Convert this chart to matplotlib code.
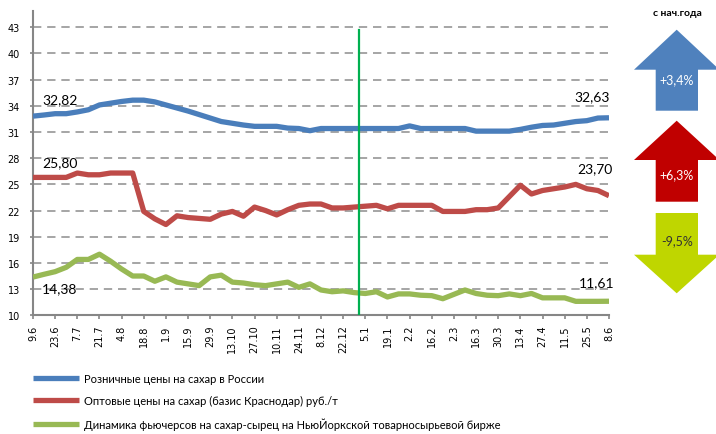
import matplotlib
matplotlib.use("Agg")
import matplotlib.pyplot as plt
from matplotlib.patches import Polygon
import numpy as np

# ---------------- data ----------------
tick_labels = ["9.6", "23.6", "7.7", "21.7", "4.8", "18.8", "1.9", "15.9", "29.9",
               "13.10", "27.10", "10.11", "24.11", "8.12", "22.12", "5.1", "19.1",
               "2.2", "16.2", "2.3", "16.3", "30.3", "13.4", "27.4", "11.5", "25.5", "8.6"]

retail = [32.82, 32.95, 33.1, 33.1, 33.3, 33.55, 34.1, 34.3, 34.5, 34.65, 34.65, 34.45,
          34.1, 33.75, 33.4, 33.0, 32.6, 32.2, 32.0, 31.8, 31.65, 31.65, 31.65, 31.45,
          31.4, 31.15, 31.4, 31.4, 31.4, 31.4, 31.4, 31.4, 31.4, 31.4, 31.7, 31.4,
          31.4, 31.4, 31.4, 31.4, 31.1, 31.1, 31.1, 31.1, 31.3, 31.55, 31.75, 31.8,
          32.0, 32.2, 32.3, 32.6, 32.63]

wholesale = [25.8, 25.8, 25.8, 25.8, 26.3, 26.1, 26.1, 26.3, 26.3, 26.3, 21.9, 21.05,
             20.4, 21.4, 21.2, 21.1, 21.0, 21.6, 21.9, 21.35, 22.4, 22.0, 21.5, 22.1,
             22.6, 22.75, 22.75, 22.3, 22.3, 22.4, 22.5, 22.6, 22.2, 22.6, 22.6, 22.6,
             22.6, 21.9, 21.9, 21.9, 22.1, 22.1, 22.3, 23.6, 24.9, 23.9, 24.3, 24.5,
             24.7, 25.0, 24.5, 24.3, 23.7]

futures = [14.38, 14.7, 15.0, 15.5, 16.4, 16.4, 17.0, 16.2, 15.3, 14.5, 14.5, 13.9,
           14.4, 13.8, 13.6, 13.4, 14.4, 14.6, 13.8, 13.7, 13.5, 13.4, 13.6, 13.8,
           13.2, 13.6, 12.9, 12.7, 12.8, 12.6, 12.5, 12.7, 12.1, 12.45, 12.45, 12.3,
           12.25, 11.9, 12.4, 12.9, 12.5, 12.3, 12.25, 12.45, 12.25, 12.5, 12.0, 12.0,
           12.0, 11.6, 11.6, 11.6, 11.61]

series_names = ["Розничные цены на сахар в России",
                "Оптовые цены на сахар (базис Краснодар) руб./т",
                "Динамика фьючерсов на сахар-сырец на НьюЙоркской товарносырьевой бирже"]

start_labels = ["32,82", "25,80", "14,38"]
end_labels = ["32,63", "23,70", "11,61"]

change_title = "с нач.года"
change_labels = ["+3,4%", "+6,3%", "-9,5%"]

year_break = 29.43  # 1 January between 29.12 and 5.1

# ---------------- style ----------------
line_colors = ["#4A7EBB", "#BE4B48", "#98B954"]
arrow_colors = ["#4F81BD", "#C00000", "#BFD600"]
arrow_text_colors = ["white", "white", "#333333"]
txt_font = ["Lato", "DejaVu Sans"]
W, H = 716, 435

fig = plt.figure(figsize=(W / 100, H / 100), dpi=100)
ax = fig.add_axes([33 / W, (H - 316.3) / H, (609 - 33) / W, (316.3 - 11.7) / H])

x = np.arange(len(retail))
series = [retail, wholesale, futures]
lines = []
for s, c, name in zip(series, line_colors, series_names):
    ln, = ax.plot(x, s, color=c, lw=3.8, solid_capstyle="butt", solid_joinstyle="round",
                  label=name, zorder=3)
    lines.append(ln)

ax.set_xlim(0, len(retail) - 1)
ax.set_ylim(10, 44.9)
ax.set_yticks(np.arange(10, 44, 3))
ax.set_xticks(np.arange(0, len(retail), 2))
ax.set_xticklabels(tick_labels, rotation=90)
ax.tick_params(axis="both", labelsize=7, colors="#868686", width=1.2, labelcolor="black")
ax.tick_params(axis="y", length=2.5, pad=7)
ax.tick_params(axis="x", length=3, pad=3.5)
for sp in ["top", "right"]:
    ax.spines[sp].set_visible(False)
for sp in ["left", "bottom"]:
    ax.spines[sp].set_color("#868686")
    ax.spines[sp].set_linewidth(1.5)
ax.grid(axis="y", color="#969696", lw=1.2, ls=(0, (5, 3.5)), zorder=0)
ax.set_axisbelow(True)

# vertical green year line
ax.plot([year_break, year_break], [10, 42.7], color="#00B050", lw=1.6, zorder=4)

# start / end annotations
start_off = [(27, 17), (27, 15), (27, -11)]
end_off = [(-17, 22), (-14, 28), (-12, 19)]
for s, lab, off in zip(series, start_labels, start_off):
    ax.annotate(lab, xy=(0, s[0]), xytext=off, textcoords="offset pixels",
                ha="center", va="center", fontsize=10, family=txt_font)
for s, lab, off in zip(series, end_labels, end_off):
    ax.annotate(lab, xy=(len(s) - 1, s[-1]), xytext=off, textcoords="offset pixels",
                ha="center", va="center", fontsize=10, family=txt_font)

# legend
fig.legend(handles=lines, loc="upper left", bbox_to_anchor=(23 / W, 1 - 364 / H),
           frameon=False, prop={"family": txt_font, "size": 8},
           handlelength=4.1, handletextpad=0.45, labelspacing=1.0)

# ---------------- arrows (overlay) ----------------
ov = fig.add_axes([0, 0, 1, 1])
ov.set_xlim(0, W)
ov.set_ylim(H, 0)
ov.axis("off")
ov.patch.set_alpha(0)

cx = 676.7
sl, sr = 655.7, 698.0
hl, hr = 634.0, 719.4


def up_arrow(tip, base, bottom):
    return [(cx, tip), (hr, base), (sr, base), (sr, bottom), (sl, bottom), (sl, base), (hl, base)]


def down_arrow(top, base, tip):
    return [(sl, top), (sr, top), (sr, base), (hr, base), (cx, tip), (hl, base), (sl, base)]


shapes = [up_arrow(30.7, 70.7, 111.7), up_arrow(121.7, 161, 202.7), down_arrow(214, 255.7, 294.3)]
text_y = [80, 175, 241]
for pts, col, lab, tc, ty in zip(shapes, arrow_colors, change_labels, arrow_text_colors, text_y):
    ov.add_patch(Polygon(pts, closed=True, facecolor=col, edgecolor="none"))
    ov.text(cx, ty, lab, ha="center", va="center", color=tc, fontsize=9, family=txt_font)

ov.text(677, 13, change_title, ha="center", va="center", fontsize=7.5, fontweight="bold",
        family=txt_font)

fig.savefig("out.png", dpi=100)
